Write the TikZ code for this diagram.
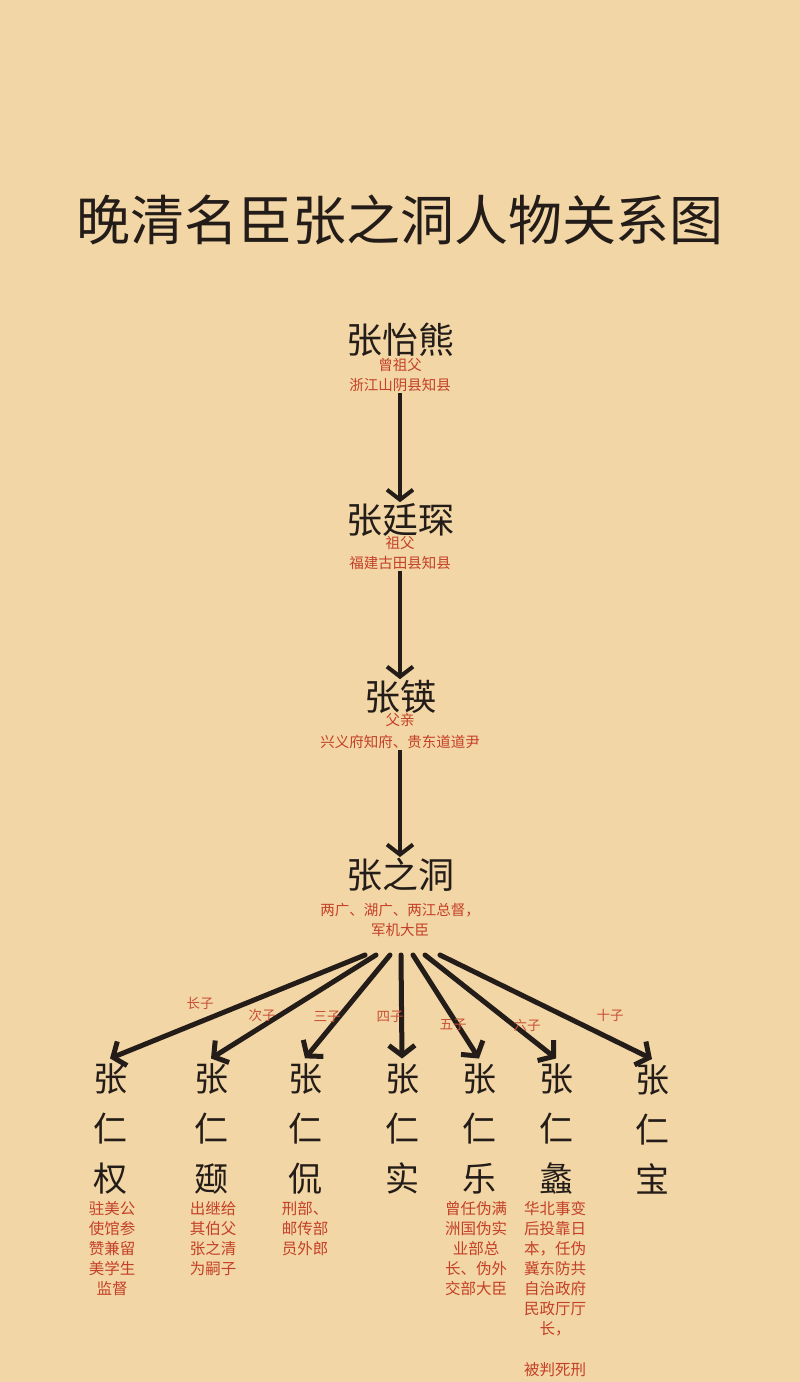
\documentclass[tikz,border=0pt]{standalone}
\usepackage{fontspec}
\newfontfamily\cjk{Noto Sans CJK SC}
\usetikzlibrary{arrows.meta}
\definecolor{bg}{RGB}{242,214,165}
\definecolor{ink}{RGB}{35,28,24}
\definecolor{redtxt}{RGB}{196,64,40}
\definecolor{lbl}{RGB}{200,80,55}
\begin{document}
\begin{tikzpicture}[x=1pt,y=-1pt,
 title/.style={font=\cjk\fontsize{54}{60}\selectfont, text=ink, inner sep=0},
 person/.style={font=\cjk\fontsize{36}{40}\selectfont, text=ink, inner sep=1pt},
 lab/.style={font=\cjk\fontsize{14.5}{16}\selectfont, text=redtxt, inner sep=1pt},
 child/.style={font=\cjk\fontsize{34}{50}\selectfont, text=ink, align=center, inner sep=1pt},
 desc/.style={font=\cjk\fontsize{15.5}{20}\selectfont, text=redtxt, align=center, inner sep=0},
 elab/.style={font=\cjk\fontsize{13.5}{14}\selectfont, text=lbl, inner sep=0},
 varrow/.style={draw=ink, line width=4pt, -{Straight Barb[length=10pt,width=26pt]}},
 carrow/.style={draw=ink, line width=5pt, line cap=round, -{Straight Barb[length=10pt,width=26pt]}},
]
\fill[bg] (0,0) rectangle (800,1382);
\useasboundingbox (0,0) rectangle (800,1382);

\node[title] (t) at (400,220) {晚清名臣张之洞人物关系图};

\node[person] (a) at (400,340) {张怡熊};
\node[lab] (a1) at (400,365) {曾祖父};
\node[lab] (a2) at (400,385) {浙江山阴县知县};

\node[person] (b) at (400,520) {张廷琛};
\node[lab] (b1) at (400,543) {祖父};
\node[lab] (b2) at (400,563) {福建古田县知县};

\node[person] (c) at (400,697) {张锳};
\node[lab] (c1) at (400,720) {父亲};
\node[lab] (c2) at (400,742) {兴义府知府、贵东道道尹};

\node[person] (d) at (400,875) {张之洞};
\node[lab] (d1) at (400,910) {两广、湖广、两江总督，};
\node[lab] (d2) at (400,930) {军机大臣};

\draw[varrow] (a2) -- (b);
\draw[varrow] (b2) -- (c);
\draw[varrow] (c2) -- (d);

\node[child] (k1) at (110,1129) {张\\仁\\权};
\node[child] (k2) at (211,1129) {张\\仁\\颋};
\node[child] (k3) at (305,1129) {张\\仁\\侃};
\node[child] (k4) at (402,1129) {张\\仁\\实};
\node[child] (k5) at (479,1129) {张\\仁\\乐};
\node[child] (k6) at (556,1129) {张\\仁\\蠡};
\node[child] (k7) at (652,1129) {张\\仁\\宝};

\coordinate (s1) at (365,955);
\coordinate (s2) at (376,955);
\coordinate (s3) at (390,955);
\coordinate (s4) at (401,955);
\coordinate (s5) at (413,955);
\coordinate (s6) at (425,955);
\coordinate (s7) at (440,955);

\draw[carrow] (s1) -- ([yshift=4pt]k1.north);
\draw[carrow] (s2) -- ([yshift=4pt]k2.north);
\draw[carrow] (s3) -- ([yshift=4pt]k3.north);
\draw[carrow] (s4) -- ([yshift=4pt]k4.north);
\draw[carrow] (s5) -- ([yshift=4pt]k5.north);
\draw[carrow] (s6) -- ([yshift=4pt]k6.north);
\draw[carrow] (s7) -- ([yshift=4pt]k7.north);

\node[elab] (l1) at (200,1003) {长子};
\node[elab] (l2) at (262,1015) {次子};
\node[elab] (l3) at (327,1017) {三子};
\node[elab] (l4) at (390,1017) {四子};
\node[elab] (l5) at (453,1025) {五子};
\node[elab] (l6) at (527,1025) {六子};
\node[elab] (l7) at (610,1015) {十子};

\node[desc, anchor=north] (e1) at (112,1201) {驻美公\\使馆参\\赞兼留\\美学生\\监督};
\node[desc, anchor=north] (e2) at (213,1201) {出继给\\其伯父\\张之清\\为嗣子};
\node[desc, anchor=north] (e3) at (305,1201) {刑部、\\邮传部\\员外郎};
\node[desc, anchor=north] (e5) at (476,1201) {曾任伪满\\洲国伪实\\业部总\\长、伪外\\交部大臣};
\node[desc, anchor=north] (e6) at (555,1201) {华北事变\\后投靠日\\本，任伪\\冀东防共\\自治政府\\民政厅厅\\长，};
\node[desc] (e6b) at (555,1370) {被判死刑};
\end{tikzpicture}
\end{document}
